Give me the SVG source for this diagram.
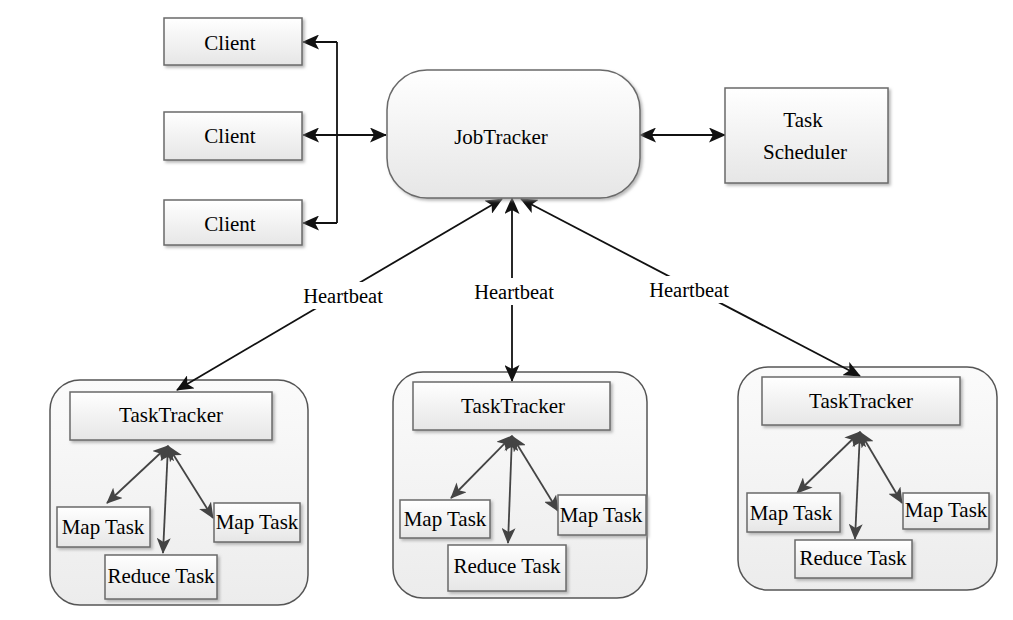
<svg xmlns="http://www.w3.org/2000/svg" width="1013" height="620" viewBox="0 0 1013 620">
<style>
text{font-family:"Liberation Serif","Times New Roman",serif;fill:#000;text-anchor:middle;dominant-baseline:central}
.box{fill:url(#g);stroke:#6a6a6a;stroke-width:1.5;filter:url(#sh)}
.cont{fill:url(#gc);stroke:#555;stroke-width:1.5}
.ln{stroke:#111;stroke-width:1.8;fill:none}
.tl{stroke:#444;stroke-width:1.8;fill:none}
.t19{font-size:21px}
.t17{font-size:20.5px}
</style>
<defs>
<linearGradient id="g" x1="0" y1="0" x2="0" y2="1"><stop offset="0" stop-color="#ffffff"/><stop offset="1" stop-color="#e6e6e6"/></linearGradient>
<linearGradient id="gc" x1="0" y1="0" x2="0" y2="1"><stop offset="0" stop-color="#fbfbfb"/><stop offset="1" stop-color="#ececec"/></linearGradient>
<filter id="sh" x="-10%" y="-10%" width="130%" height="140%"><feDropShadow dx="2" dy="2" stdDeviation="1.5" flood-color="#999" flood-opacity="0.7"/></filter>
<marker id="a" markerUnits="userSpaceOnUse" markerWidth="17" markerHeight="15" refX="16" refY="7.5" orient="auto-start-reverse"><path d="M0,0 L17,7.5 L0,15 L4,7.5 Z" fill="#111"/></marker>
<marker id="b" markerUnits="userSpaceOnUse" markerWidth="16" markerHeight="14" refX="15" refY="7" orient="auto-start-reverse"><path d="M0,0 L16,7 L0,14 L4,7 Z" fill="#444"/></marker>
</defs>
<rect width="1013" height="620" fill="#fff"/>

<g id="containers">
<rect id="tt1-container" class="cont" x="50" y="380" width="258" height="225" rx="30"/>
<rect id="tt2-container" class="cont" x="393" y="372" width="254" height="226" rx="30"/>
<rect id="tt3-container" class="cont" x="738" y="367" width="259" height="223" rx="30"/>
</g>

<g id="connectors">
<line class="ln" x1="337" y1="42" x2="337" y2="223"/>
<line class="ln" x1="337" y1="42" x2="303" y2="42" marker-end="url(#a)"/>
<line class="ln" x1="337" y1="223" x2="303" y2="223" marker-end="url(#a)"/>
<line class="ln" x1="303" y1="135" x2="386" y2="135" marker-start="url(#a)" marker-end="url(#a)"/>
<line class="ln" x1="640" y1="135" x2="725" y2="135" marker-start="url(#a)" marker-end="url(#a)"/>
<line class="ln" x1="502" y1="199" x2="177" y2="390" marker-start="url(#a)" marker-end="url(#a)"/>
<line class="ln" x1="512" y1="198" x2="512" y2="381" marker-start="url(#a)" marker-end="url(#a)"/>
<line class="ln" x1="521" y1="199" x2="860" y2="376" marker-start="url(#a)" marker-end="url(#a)"/>
<rect x="298" y="282" width="90" height="27" fill="#fff"/>
<rect x="469" y="278" width="90" height="27" fill="#fff"/>
<rect x="644" y="276" width="90" height="27" fill="#fff"/>
<text class="t17" x="343" y="296">Heartbeat</text>
<text class="t17" x="514" y="292">Heartbeat</text>
<text class="t17" x="689" y="290">Heartbeat</text>

<line class="tl" x1="168" y1="446" x2="107" y2="503" marker-start="url(#b)" marker-end="url(#b)"/>
<line class="tl" x1="168" y1="446" x2="163" y2="553" marker-start="url(#b)" marker-end="url(#b)"/>
<line class="tl" x1="168" y1="446" x2="213" y2="518" marker-start="url(#b)" marker-end="url(#b)"/>

<line class="tl" x1="512" y1="436" x2="451" y2="498" marker-start="url(#b)" marker-end="url(#b)"/>
<line class="tl" x1="512" y1="436" x2="508" y2="543" marker-start="url(#b)" marker-end="url(#b)"/>
<line class="tl" x1="512" y1="436" x2="558" y2="511" marker-start="url(#b)" marker-end="url(#b)"/>

<line class="tl" x1="860" y1="432" x2="797" y2="493" marker-start="url(#b)" marker-end="url(#b)"/>
<line class="tl" x1="860" y1="432" x2="855" y2="539" marker-start="url(#b)" marker-end="url(#b)"/>
<line class="tl" x1="860" y1="432" x2="902" y2="503" marker-start="url(#b)" marker-end="url(#b)"/>
</g>

<g id="client1"><rect class="box" x="164" y="18" width="138" height="47"/><text class="t19" x="230" y="43">Client</text></g>
<g id="client2"><rect class="box" x="164" y="112" width="138" height="48"/><text class="t19" x="230" y="136">Client</text></g>
<g id="client3"><rect class="box" x="164" y="200" width="138" height="45"/><text class="t19" x="230" y="224">Client</text></g>

<g id="jobtracker"><rect class="box" x="387" y="70" width="253" height="128" rx="40"/><text class="t19" x="501" y="137">JobTracker</text></g>
<g id="taskscheduler"><rect class="box" x="725" y="88" width="163" height="95"/><text class="t19" x="803" y="120">Task</text><text class="t19" x="805" y="152">Scheduler</text></g>

<g id="tt1">
<rect class="box" x="70" y="392" width="202" height="48"/><text class="t19" x="171" y="415">TaskTracker</text>
</g>
<g id="tt1-map1"><rect class="box" x="57" y="507" width="93" height="40"/><text class="t19" x="103" y="527">Map Task</text></g>
<g id="tt1-reduce"><rect class="box" x="105" y="555" width="112" height="44"/><text class="t19" x="161" y="576">Reduce Task</text></g>
<g id="tt1-map2"><rect class="box" x="214" y="503" width="86" height="39"/><text class="t19" x="257" y="522">Map Task</text></g>

<g id="tt2">
<rect class="box" x="413" y="382" width="197" height="48"/><text class="t19" x="513" y="406">TaskTracker</text>
</g>
<g id="tt2-map1"><rect class="box" x="400" y="500" width="90" height="38"/><text class="t19" x="445" y="519">Map Task</text></g>
<g id="tt2-reduce"><rect class="box" x="448" y="545" width="118" height="46"/><text class="t19" x="507" y="566">Reduce Task</text></g>
<g id="tt2-map2"><rect class="box" x="558" y="495" width="88" height="40"/><text class="t19" x="601" y="515">Map Task</text></g>

<g id="tt3">
<rect class="box" x="762" y="377" width="198" height="48"/><text class="t19" x="861" y="401">TaskTracker</text>
</g>
<g id="tt3-map1"><rect class="box" x="747" y="493" width="93" height="39"/><text class="t19" x="791" y="513">Map Task</text></g>
<g id="tt3-reduce"><rect class="box" x="795" y="540" width="117" height="38"/><text class="t19" x="853" y="558">Reduce Task</text></g>
<g id="tt3-map2"><rect class="box" x="903" y="493" width="86" height="36"/><text class="t19" x="946" y="510">Map Task</text></g>
</svg>
